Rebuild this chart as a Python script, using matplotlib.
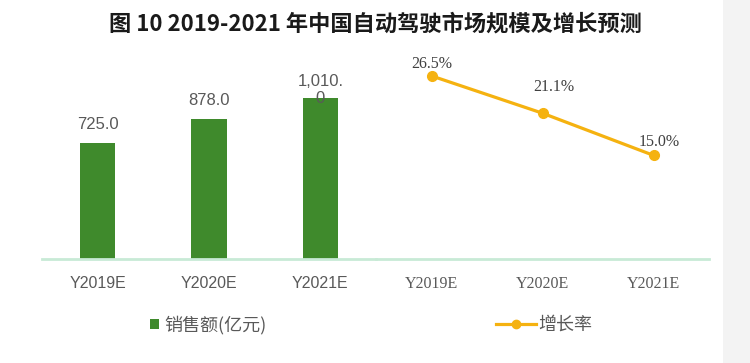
import matplotlib
matplotlib.use('Agg')
from matplotlib import pyplot as plt
from matplotlib.patches import Patch, Rectangle
from matplotlib.lines import Line2D
import numpy as np

plt.rcParams['font.family'] = ['Noto Sans CJK SC', 'DejaVu Sans']

TITLE = '图 10 2019-2021 年中国自动驾驶市场规模及增长预测'

years = ['Y2019E', 'Y2020E', 'Y2021E']
sales = [725.0, 878.0, 1010.0]
sales_labels = ['725.0', '878.0', '1,010.\n0']
growth = [26.5, 21.1, 15.0]
growth_labels = ['26.5%', '21.1%', '15.0%']

SALES_NAME = '销售额(亿元)'
GROWTH_NAME = '增长率'

GREEN = '#3f8a2c'
ORANGE = '#f5b210'
MINT = '#c8ead6'
LABEL_GREY = '#595959'

fig = plt.figure(figsize=(7.5, 3.63), dpi=100)
fig.patch.set_facecolor('white')

# light grey strip on the right edge of the scan
fig.patches.append(Rectangle((723 / 750, 0), 27 / 750, 1, transform=fig.transFigure,
                             facecolor='#f3f3f3', edgecolor='none', zorder=0))

ax_bar = fig.add_axes([42 / 750, 104 / 363, 334 / 750, 199 / 363])
ax_line = fig.add_axes([376 / 750, 104 / 363, 333 / 750, 199 / 363])

x = np.arange(len(years))

# left panel: sales bars (the wrapped 1,010 label sits on the bar top)
ax_bar.bar(x, sales, width=0.32, color=GREEN, zorder=2)
ax_bar.set_xlim(-0.5, 2.5)
ax_bar.set_ylim(0, 1248)
sales_offsets = [8, 8, -6]
for xi, v, lab, off in zip(x, sales, sales_labels, sales_offsets):
  ax_bar.annotate(lab, (xi, v), xytext=(0, off), textcoords='offset points',
                  ha='center', va='bottom', fontsize=12, color=LABEL_GREY,
                  family='Liberation Sans', linespacing=1.15, zorder=3)

# right panel: growth line
ax_line.plot(x, growth, color=ORANGE, linewidth=2.3, marker='o', markersize=7, zorder=3)
ax_line.set_xlim(-0.5, 2.5)
ax_line.set_ylim(0, 28.8)
label_offsets = [(0, 3), (8, 13), (4, 4)]
for xi, v, lab, off in zip(x, growth, growth_labels, label_offsets):
  ax_line.annotate(lab, (xi, v), xytext=off, textcoords='offset points',
                   ha='center', va='bottom', fontsize=11.5, color='#404040',
                   family='Liberation Serif', zorder=4)

tick_fonts = {ax_bar: 'Liberation Sans', ax_line: 'Liberation Serif'}
for ax in (ax_bar, ax_line):
  ax.set_facecolor('none')
  for s in ('top', 'right', 'left'):
    ax.spines[s].set_visible(False)
  ax.spines['bottom'].set_color(MINT)
  ax.spines['bottom'].set_linewidth(2)
  ax.set_yticks([])
  ax.set_xticks(x)
  ax.set_xticklabels(years, fontsize=11.5, color=LABEL_GREY, family=tick_fonts[ax])
  ax.tick_params(axis='x', length=0, pad=12)

# legends
sales_handle = Patch(facecolor=GREEN, edgecolor='none')
growth_handle = Line2D([], [], color=ORANGE, linewidth=2.3, marker='o', markersize=6)
leg1 = fig.legend([sales_handle], [SALES_NAME], loc='center left',
                  bbox_to_anchor=(134 / 750, 1 - 325 / 363), frameon=False,
                  fontsize=13, handlelength=0.5, handleheight=0.5, handletextpad=0.3,
                  labelcolor=LABEL_GREY)
leg2 = fig.legend([growth_handle], [GROWTH_NAME], loc='center left',
                  bbox_to_anchor=(480 / 750, 1 - 325 / 363), frameon=False,
                  fontsize=13, handlelength=2.2, handletextpad=0.1,
                  labelcolor=LABEL_GREY)

fig.text(0.5, 1 - 24 / 363, TITLE, ha='center', va='center', fontsize=16,
         fontweight='bold', color='#1a1a1a')

fig.savefig('out.png', dpi=100, facecolor='white')
